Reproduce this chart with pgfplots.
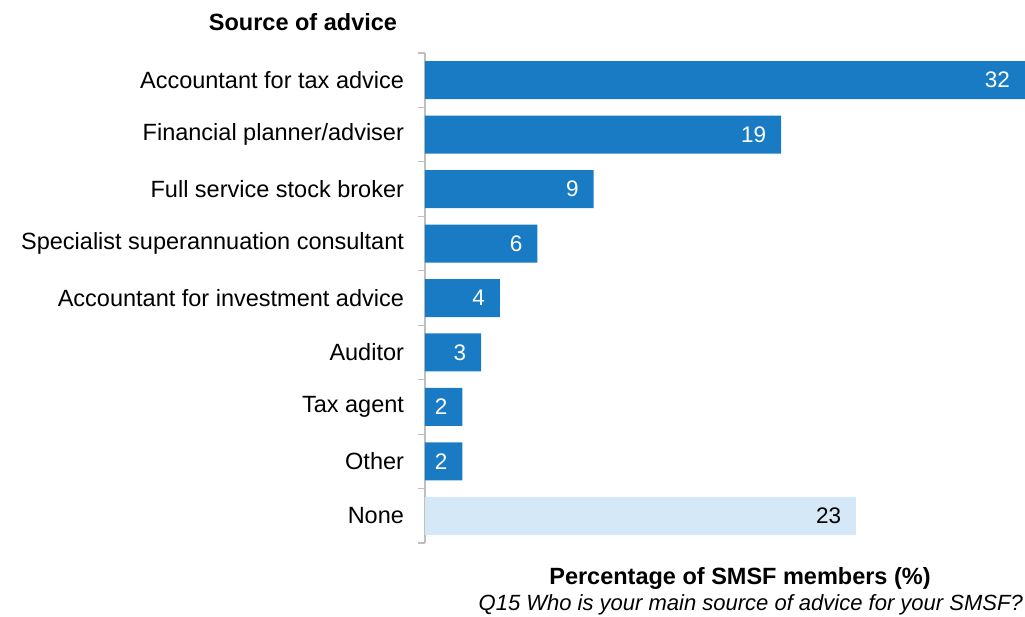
\documentclass[border=0pt]{standalone}
\usepackage{fontspec}
\setmainfont{Liberation Sans}
\usepackage{pgfplots}
\pgfplotsset{compat=1.18}
\definecolor{barblue}{HTML}{1A7BC5}
\definecolor{barlight}{HTML}{D4E8F8}
\definecolor{axisgrey}{HTML}{BFBFBF}
\begin{document}
\fontsize{23.5}{27}\selectfont
\begin{tikzpicture}
\path[use as bounding box] (-425pt,53pt) rectangle (600pt,-564pt);
\begin{axis}[
  at={(0pt,0pt)}, anchor=north west,
  scale only axis,
  width=600pt, height=490pt,
  xbar, bar width=38pt, bar shift=0pt,
  xmin=0, xmax=32,
  ymin=-0.5, ymax=8.5,
  y dir=reverse,
  axis x line=none,
  axis y line*=left,
  y axis line style={axisgrey, line width=1.2pt, -},
  ytick={0,...,8},
  yticklabels={Accountant for tax advice, Financial planner/adviser, Full service stock broker, Specialist superannuation consultant, Accountant for investment advice, Auditor, Tax agent, Other, None},
  major tick length=0pt,
  minor ytick={-0.5,0.5,...,8.5},
  minor tick length=7pt,
  tick align=outside,
  minor tick style={axisgrey, line width=1.2pt},
  yticklabel style={font=\fontsize{23.5}{27}\selectfont, xshift=-13pt},
  /pgf/number format/assume math mode=true,
  nodes near coords,
  nodes near coords style={font=\fontsize{22.5}{26}\selectfont, text=white, anchor=east, xshift=-7pt},
  clip=false,
]
\addplot[fill=barblue, draw=none] coordinates {(32,0) (19,1) (9,2) (6,3) (4,4) (3,5) (2,6) (2,7)};
\addplot[fill=barlight, draw=none, nodes near coords style={text=black}] coordinates {(23,8)};
\end{axis}
\node[font=\bfseries\fontsize{23.5}{27}\selectfont] at (-122pt,31pt) {Source of advice};
\node[font=\bfseries\fontsize{23.5}{27}\selectfont] at (315pt,-525pt) {Percentage of SMSF members (\%)};
\node[font=\itshape\fontsize{22}{26}\selectfont, anchor=east, inner sep=0pt] at (598pt,-552pt) {Q15 Who is your main source of advice for your SMSF?};
\end{tikzpicture}
\end{document}
